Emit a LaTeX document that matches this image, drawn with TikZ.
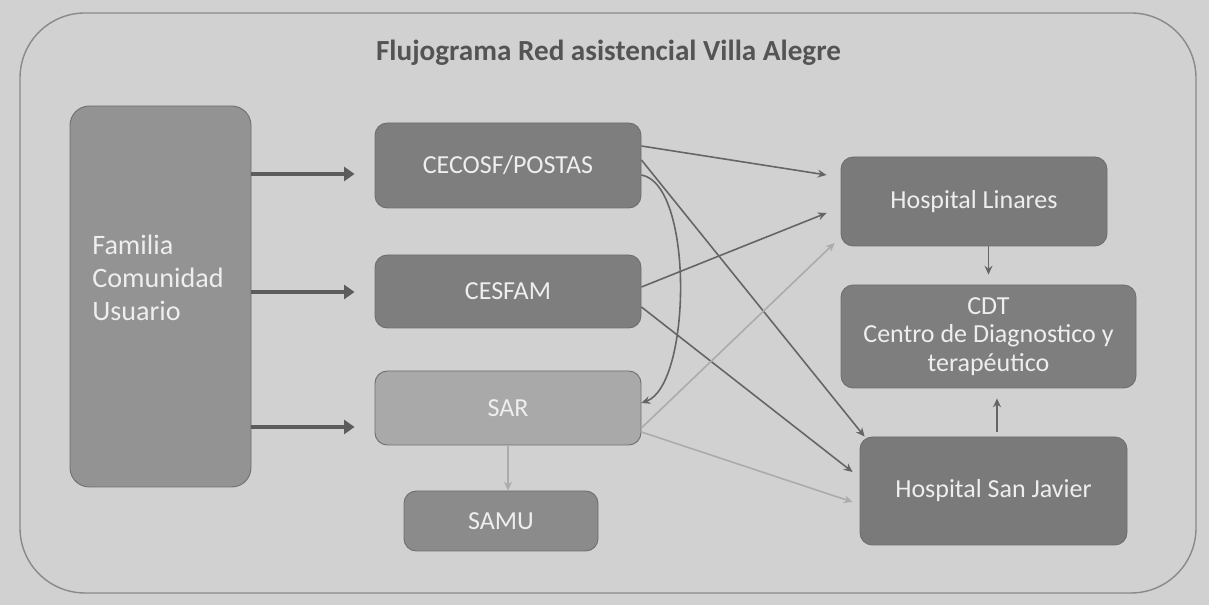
\documentclass[tikz,border=0pt]{standalone}
\usepackage{fontspec}
\setmainfont{Carlito}
\usetikzlibrary{arrows.meta}

\definecolor{fondo}{HTML}{D1D1D1}
\definecolor{marco}{HTML}{8A8A8A}
\definecolor{titulo}{HTML}{545454}
\definecolor{borde}{HTML}{6E6E6E}
\definecolor{famcolor}{HTML}{939393}
\definecolor{oscuro}{HTML}{7E7E7E}
\definecolor{hospital}{HTML}{7A7A7A}
\definecolor{sarcolor}{HTML}{A9A9A9}
\definecolor{samucolor}{HTML}{8B8B8B}
\definecolor{blanco}{HTML}{EEEEEE}
\definecolor{gruesa}{HTML}{5C5C5C}
\definecolor{linea}{HTML}{656565}
\definecolor{clara}{HTML}{ABABAB}

\begin{document}
\begin{tikzpicture}[every node/.style={font=\fontsize{14.8}{16.2}\selectfont},
	caja/.style={draw=borde, line width=0.5pt, rounded corners=7pt, fill=oscuro, text=blanco, align=center, inner sep=0pt},
	flechagruesa/.style={-{Triangle[length=6pt,width=8pt]}, line width=2.8pt, draw=gruesa},
	flecha/.style={-{Stealth[length=5pt,width=4.5pt]}, line width=0.9pt, draw=linea},
	flechaclara/.style={flecha, draw=clara}]
	
	% background and frame
	\fill[fondo] (0,0) rectangle (24.18,12.1);
	\useasboundingbox (0,0) rectangle (24.18,12.1);
	\draw[marco, line width=0.8pt, rounded corners=37pt] (0.4,0.24) rectangle (23.92,11.84);
	
	% title
	\node[text=titulo, font=\bfseries\fontsize{16.6}{19}\selectfont] (titulo) at (12.17,11.04) {Flujograma Red asistencial Villa Alegre};
	
	% users
	\node[caja, fill=famcolor, rounded corners=11pt, minimum width=3.62cm, minimum height=7.62cm] (fam) at (3.21,6.17) {};
	\node[anchor=west, align=left, inner sep=0pt, text=blanco, font=\fontsize{16}{18.7}\selectfont] (famtxt) at (1.84,6.54) {Familia\\Comunidad\\Usuario};
	
	% primary care
	\node[caja, minimum width=5.32cm, minimum height=1.70cm] (cecosf) at (10.16,8.79) {CECOSF/POSTAS};
	\node[caja, minimum width=5.32cm, minimum height=1.46cm] (cesfam) at (10.16,6.27) {CESFAM};
	\node[caja, fill=sarcolor, minimum width=5.32cm, minimum height=1.48cm] (sar) at (10.16,3.94) {SAR};
	\node[caja, fill=samucolor, minimum width=3.88cm, minimum height=1.20cm] (samu) at (10.02,1.68) {SAMU};
	
	% hospitals
	\node[caja, fill=hospital, minimum width=5.32cm, minimum height=1.78cm] (linares) at (19.48,8.07) {Hospital Linares};
	\node[caja, minimum width=5.90cm, minimum height=2.06cm] (cdt) at (19.77,5.37) {CDT\\Centro de Diagnostico y\\terapéutico};
	\node[caja, fill=hospital, minimum width=5.34cm, minimum height=2.16cm] (sanjavier) at (19.87,2.28) {Hospital San Javier};
	
	% arrows from the users
	\coordinate (e1) at ([xshift=-0.4cm,yshift=-0.17cm]cecosf.west);
	\coordinate (e2) at ([xshift=-0.4cm,yshift=-0.01cm]cesfam.west);
	\coordinate (e3) at ([xshift=-0.4cm,yshift=-0.38cm]sar.west);
	\draw[flechagruesa] (fam.east |- e1) -- (e1);
	\draw[flechagruesa] (fam.east |- e2) -- (e2);
	\draw[flechagruesa] (fam.east |- e3) -- (e3);
	
	% referrals
	\draw[flecha] ([yshift=0.39cm]cecosf.east) -- ([xshift=-0.28cm,yshift=0.53cm]linares.west);
	\draw[flecha] ([yshift=0.11cm]cecosf.east) -- ([xshift=0.1cm]sanjavier.north west);
	\draw[flecha] ([yshift=-0.19cm]cecosf.east) to[out=-10,in=20,looseness=0.6] ([yshift=0.1cm]sar.east);
	\draw[flecha] ([yshift=0.09cm]cesfam.east) -- ([xshift=-0.28cm,yshift=-0.23cm]linares.west);
	\draw[flecha] ([yshift=-0.31cm]cesfam.east) -- ([xshift=-0.14cm,yshift=0.38cm]sanjavier.west);
	\draw[flechaclara] ([yshift=-0.4cm]sar.east) -- ([xshift=-0.12cm,yshift=-0.83cm]linares.west);
	\draw[flechaclara] ([yshift=-0.48cm]sar.east) -- ([xshift=-0.14cm,yshift=-0.22cm]sanjavier.west);
	\draw[flechaclara] (sar.south) -- (sar.south |- samu.north);
	
	% to the CDT
	\draw[flecha] (cdt.north |- linares.south) -- ([yshift=0.2cm]cdt.north);
	\draw[flecha] ([xshift=0.07cm,yshift=0.1cm]sanjavier.north) -- ([xshift=0.17cm,yshift=-0.2cm]cdt.south);
	
\end{tikzpicture}
\end{document}
